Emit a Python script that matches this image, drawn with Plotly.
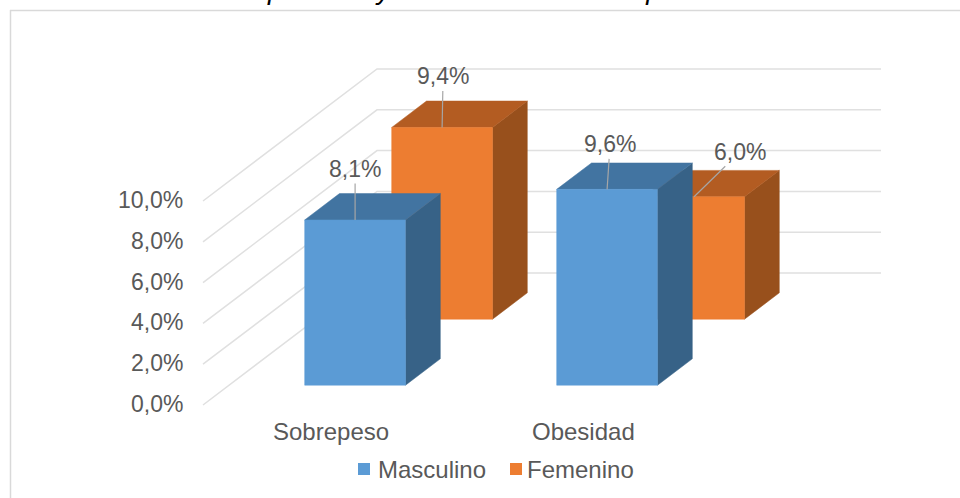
import plotly.graph_objects as go

# Values (percent)
categories = ["Sobrepeso", "Obesidad"]
series_names = ["Masculino", "Femenino"]
masculino = [8.1, 9.6]
femenino = [9.4, 6.0]
value_ticks = [0, 2, 4, 6, 8, 10]
tick_labels = ["0,0%", "2,0%", "4,0%", "6,0%", "8,0%", "10,0%"]
title_tail = "primaria y secundaria de Socopuna"

WIDTH, HEIGHT = 960, 498
FONT = "Liberation Sans"
TEXT = "#595959"
GRID = "#e0e0e0"

# pixels of the oblique view
FLOOR_X, FLOOR_Y = 203, 405   # front left corner of the floor
SLOT_PX = 252                 # width of one category
PCT_PX = 20.4                 # height of 1%
DEPTH_DX, DEPTH_DY = 174, 132 # shift from front to back of the floor

BAR_W = 0.4
BAR_D = 0.2

SERIES_DEPTH = [0.25, 0.75]
FRONT = ["#5b9bd5", "#ed7d31"]
TOP = ["#4274a1", "#b35c22"]
SIDE = ["#376287", "#98501c"]

# label offset from the bar's front top centre, pixels
LABEL_OFFSETS = [[(0, -51), (3, -45)], [(1, -51), (46, -45)]]
# legend swatch and text left edges, pixels
LEGEND_SWATCH_X = [358, 510]
LEGEND_TEXT_X = [378, 527]
LEGEND_Y = 469


def project(cat, depth, value):
    """Category units, depth 0..1 and percent to axis coordinates."""
    return cat + depth * DEPTH_DX / SLOT_PX, value + depth * DEPTH_DY / PCT_PX


def face(corners, color):
    xs, ys = zip(*[project(*c) for c in corners])
    return go.Scatter(
        x=list(xs) + [xs[0]], y=list(ys) + [ys[0]],
        mode="lines", fill="toself", fillcolor=color,
        line=dict(color=color, width=0.5),
        hoverinfo="skip", showlegend=False,
    )


fig = go.Figure()

# gridlines: side wall then back wall
last_cat = len(categories) - 0.5
for v in value_ticks:
    xs, ys = zip(project(-0.5, 0, v), project(-0.5, 1, v), project(last_cat, 1, v))
    fig.add_trace(go.Scatter(
        x=xs, y=ys, mode="lines", line=dict(color=GRID, width=1.5),
        hoverinfo="skip", showlegend=False,
    ))

# bars, far series first so the near one covers it
values = [masculino, femenino]
for s in [1, 0]:
    d0 = SERIES_DEPTH[s] - BAR_D / 2
    d1 = SERIES_DEPTH[s] + BAR_D / 2
    for c, v in enumerate(values[s]):
        x0 = c - BAR_W / 2
        x1 = c + BAR_W / 2
        fig.add_trace(face([(x1, d0, 0), (x1, d1, 0), (x1, d1, v), (x1, d0, v)], SIDE[s]))
        fig.add_trace(face([(x0, d0, v), (x1, d0, v), (x1, d1, v), (x0, d1, v)], TOP[s]))
        fig.add_trace(face([(x0, d0, 0), (x1, d0, 0), (x1, d0, v), (x0, d0, v)], FRONT[s]))

# data labels with their leader lines
for s in range(2):
    for c, v in enumerate(values[s]):
        x, y = project(c, SERIES_DEPTH[s] - BAR_D / 2, v)
        ax, ay = LABEL_OFFSETS[s][c]
        fig.add_annotation(
            x=x, y=y, ax=ax, ay=ay, xref="x", yref="y", axref="pixel", ayref="pixel",
            text=f"{v:.1f}%".replace(".", ","),
            font=dict(family=FONT, size=23, color=TEXT),
            showarrow=True, arrowhead=0, arrowwidth=1.2, arrowcolor="#a6a6a6",
        )

# value axis labels, right aligned at the front edge of the floor
for v, label in zip(value_ticks, tick_labels):
    x, y = project(-0.5, 0, v)
    fig.add_annotation(
        x=x, y=y, xref="x", yref="y", xanchor="right", xshift=-18, yshift=1,
        text=label, showarrow=False,
        font=dict(family=FONT, size=23, color=TEXT),
    )

# category labels
for c, label in enumerate(categories):
    x, y = project(c, 0, 0)
    fig.add_annotation(
        x=x, y=y, xref="x", yref="y", yanchor="middle", yshift=-26, xshift=2,
        text=label, showarrow=False,
        font=dict(family=FONT, size=24, color=TEXT),
    )

# legend drawn by hand: Plotly's own keeps a wider gap between swatch and text
for s, name in enumerate(series_names):
    fig.add_shape(
        type="rect", xref="paper", yref="paper", line_width=0, fillcolor=FRONT[s],
        x0=LEGEND_SWATCH_X[s] / WIDTH, x1=(LEGEND_SWATCH_X[s] + 12) / WIDTH,
        y0=1 - (LEGEND_Y + 6) / HEIGHT, y1=1 - (LEGEND_Y - 6) / HEIGHT,
    )
    fig.add_annotation(
        x=LEGEND_TEXT_X[s] / WIDTH, y=1 - LEGEND_Y / HEIGHT, xref="paper", yref="paper",
        xanchor="left", yanchor="middle", xshift=-2, text=name, showarrow=False,
        font=dict(family=FONT, size=24, color=TEXT),
    )

# title is cut by the top edge of the picture
fig.add_annotation(
    x=487 / WIDTH, y=1, xref="paper", yref="paper", yanchor="bottom", xanchor="center",
    yshift=-7, text=f"<i>{title_tail}</i>", showarrow=False,
    font=dict(family=FONT, size=28, color="#000000"),
)

# chart frame: top and left edges only
fig.add_shape(type="line", xref="paper", yref="paper", x0=10 / WIDTH, x1=1,
              y0=1 - 10.5 / HEIGHT, y1=1 - 10.5 / HEIGHT, line=dict(color="#d9d9d9", width=1.5))
fig.add_shape(type="line", xref="paper", yref="paper", x0=10.5 / WIDTH, x1=10.5 / WIDTH,
              y0=0, y1=1 - 10 / HEIGHT, line=dict(color="#d9d9d9", width=1.5))

fig.update_layout(
    width=WIDTH, height=HEIGHT,
    margin=dict(l=0, r=0, t=0, b=0),
    paper_bgcolor="white", plot_bgcolor="white",
    showlegend=False,
    xaxis=dict(
        visible=False,
        range=[-0.5 - FLOOR_X / SLOT_PX, -0.5 + (WIDTH - FLOOR_X) / SLOT_PX],
    ),
    yaxis=dict(
        visible=False,
        range=[-(HEIGHT - FLOOR_Y) / PCT_PX, FLOOR_Y / PCT_PX],
    ),
)

fig.write_html(
    "out.html",
    config=dict(displayModeBar=False),
    post_script="document.body.style.margin='0';document.body.style.overflow='hidden';",
)
